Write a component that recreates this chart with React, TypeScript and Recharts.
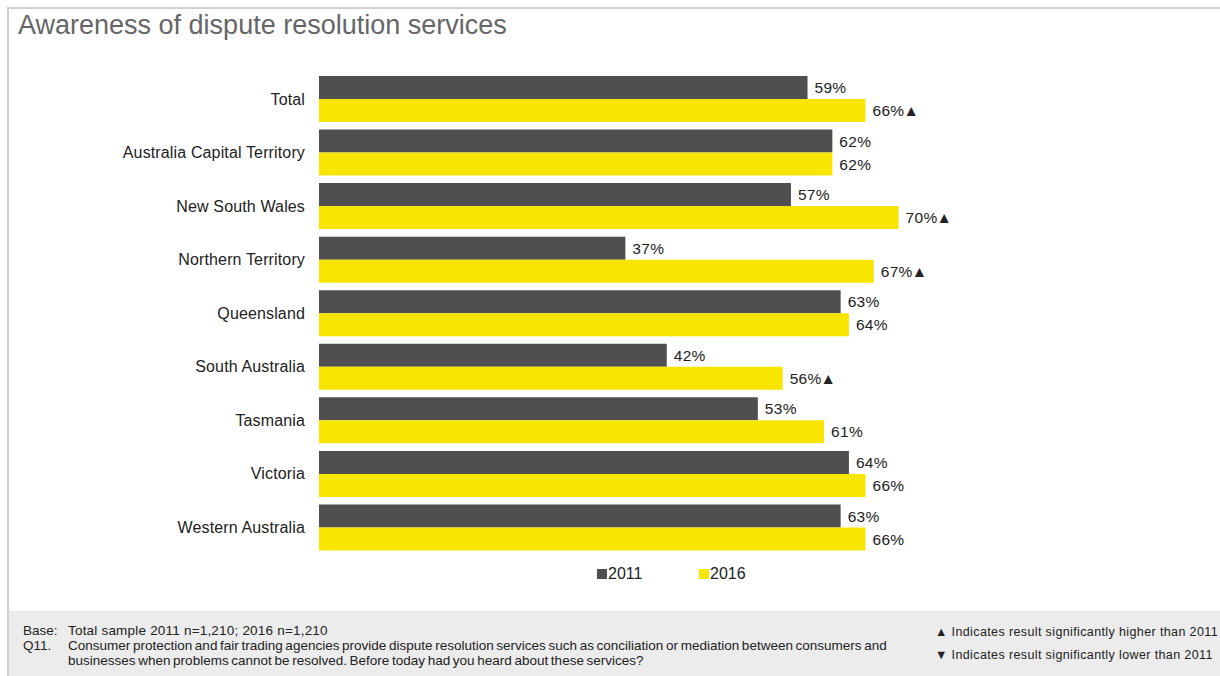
import React from 'react';
import { BarChart, Bar, XAxis, YAxis, LabelList } from 'recharts';

const categories = [
  'Total',
  'Australia Capital Territory',
  'New South Wales',
  'Northern Territory',
  'Queensland',
  'South Australia',
  'Tasmania',
  'Victoria',
  'Western Australia',
];
const values2011 = [59, 62, 57, 37, 63, 42, 53, 64, 63];
const values2016 = [66, 62, 70, 67, 64, 56, 61, 66, 66];
const sigHigher2016 = [true, false, true, true, false, true, false, false, false];
const seriesNames = ['2011', '2016'];

const data = categories.map((name, i) => ({
  name,
  v2011: values2011[i],
  v2016: values2016[i],
}));

const FONT = 'Arial, "Liberation Sans", Helvetica, sans-serif';
const DARK = '#4f4f4f';
const YELLOW = '#f9e600';

const makeLabel = (withSig: boolean) => (props: any) => {
  const { x, y, width, height, value, index } = props;
  const showSig = withSig && sigHigher2016[index];
  return (
    <text
      x={Number(x) + Number(width) + 7}
      y={Number(y) + Number(height) / 2}
      dy="0.36em"
      fontSize={15.5}
      letterSpacing={0.3}
      fontFamily={FONT}
      fill="#222"
    >
      {`${value}%`}
      {showSig ? <tspan dx={-1} letterSpacing={0}>▲</tspan> : null}
    </text>
  );
};

const CategoryTick = (props: any) => {
  const { x, y, payload } = props;
  return (
    <text
      x={Number(x) + 1}
      y={Number(y)}
      dy="0.36em"
      textAnchor="end"
      fontSize={16}
      letterSpacing={0.14}
      fontFamily={FONT}
      fill="#222"
    >
      {payload.value}
    </text>
  );
};

export default function App() {
  return (
    <div style={{ position: 'absolute', left: 0, top: 0, width: 1220, height: 676, background: '#fff', fontFamily: FONT, overflow: 'hidden' }}>
      <div style={{ position: 'absolute', left: 7, top: 7, width: 1213, height: 2, background: '#d0d0d0' }} />
      <div style={{ position: 'absolute', left: 7, top: 7, width: 2, height: 669, background: '#d0d0d0' }} />
      <div style={{ position: 'absolute', left: 18, top: 10, fontSize: 27, color: '#666', whiteSpace: 'nowrap' }}>
        Awareness of dispute resolution services
      </div>
      <div style={{ position: 'absolute', left: 0, top: 0 }}>
        <BarChart
          width={1220}
          height={600}
          data={data}
          layout="vertical"
          margin={{ top: 72, right: 73, bottom: 46, left: 0 }}
          barCategoryGap={4}
          barGap={0}
        >
          <XAxis type="number" domain={[0, 100]} hide />
          <YAxis
            type="category"
            dataKey="name"
            width={319}
            tickLine={false}
            axisLine={false}
            tickMargin={9}
            tick={<CategoryTick />}
          />
          <Bar dataKey="v2011" name={seriesNames[0]} fill={DARK} barSize={23} isAnimationActive={false}>
            <LabelList dataKey="v2011" content={makeLabel(false)} />
          </Bar>
          <Bar dataKey="v2016" name={seriesNames[1]} fill={YELLOW} barSize={23} isAnimationActive={false}>
            <LabelList dataKey="v2016" content={makeLabel(true)} />
          </Bar>
        </BarChart>
      </div>
      <div style={{ position: 'absolute', left: 597, top: 565, display: 'flex', alignItems: 'center', fontSize: 16, color: '#222' }}>
        <span style={{ display: 'inline-block', width: 10, height: 10, background: DARK, marginRight: 1 }} />
        {seriesNames[0]}
      </div>
      <div style={{ position: 'absolute', left: 699, top: 565, display: 'flex', alignItems: 'center', fontSize: 16, color: '#222' }}>
        <span style={{ display: 'inline-block', width: 10, height: 10, background: YELLOW, marginRight: 1 }} />
        {seriesNames[1]}
      </div>
      <div style={{ position: 'absolute', left: 9, top: 611, width: 1211, height: 65, background: '#ececec', fontSize: 13.5, color: '#222', whiteSpace: 'nowrap' }}>
        <div style={{ position: 'absolute', left: 14, top: 12, lineHeight: '15px' }}>Base:</div>
        <div style={{ position: 'absolute', left: 59, top: 12, lineHeight: '15px', letterSpacing: 0.2 }}>Total sample 2011 n=1,210; 2016 n=1,210</div>
        <div style={{ position: 'absolute', left: 14, top: 27, lineHeight: '15px' }}>Q11.</div>
        <div style={{ position: 'absolute', left: 59, top: 27, lineHeight: '15px', wordSpacing: -1.1 }}>
          Consumer protection and fair trading agencies provide dispute resolution services such as conciliation or mediation between consumers and
          <br />
          businesses when problems cannot be resolved. Before today had you heard about these services?
        </div>
        <div style={{ position: 'absolute', left: 926, top: 14, lineHeight: '15px', fontSize: 12.5, letterSpacing: 0.38 }}>▲ Indicates result significantly higher than 2011</div>
        <div style={{ position: 'absolute', left: 926, top: 37, lineHeight: '15px', fontSize: 12.5, letterSpacing: 0.38 }}>▼ Indicates result significantly lower than 2011</div>
      </div>
    </div>
  );
}
